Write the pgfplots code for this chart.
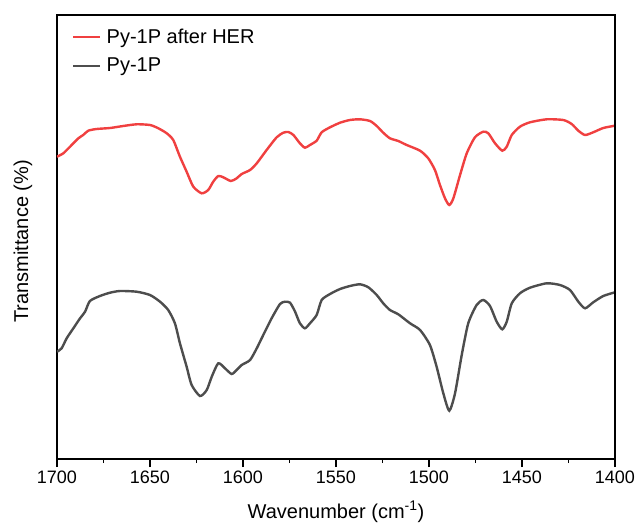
\documentclass[border=0pt]{standalone}
\usepackage{pgfplots}
\pgfplotsset{compat=1.18}
\usepackage{fontspec}
\setmainfont{Liberation Sans}
\definecolor{redc}{RGB}{240,64,64}
\definecolor{grayc}{RGB}{77,77,77}
\begin{document}
\begin{tikzpicture}
\path[use as bounding box] (-57pt,-66pt) rectangle (582pt,459pt);
\begin{axis}[
  at={(0,0)}, anchor=south west,
  scale only axis, width=558pt, height=444pt,
  x dir=reverse, xmin=1400, xmax=1700, ymin=66, ymax=510,
  xtick={1400,1450,...,1700}, minor x tick num=1,
  xtick pos=bottom, tick align=outside,
  major tick length=8pt, minor tick length=4pt,
  ytick=\empty,
  axis line style={line width=1.6pt},
  tick style={line width=1.4pt, black},
  tick label style={font=\fontsize{18}{20}\selectfont, /pgf/number format/assume math mode=true, /pgf/number format/1000 sep={}},
  xlabel={Wavenumber (cm\textsuperscript{-1})},
  ylabel={Transmittance (\%)},
  label style={font=\fontsize{20}{22}\selectfont},
  xlabel style={at={(axis description cs:0.5,0)}, anchor=center, yshift=-53pt},
  ylabel style={at={(axis description cs:-0.061,0.49)}, anchor=center},
  legend style={at={(0,1)}, anchor=north west, xshift=12pt, yshift=-10pt, draw=none, fill=none, font=\fontsize{20}{22}\selectfont, row sep=9pt, nodes={inner xsep=5pt}},
  legend cell align=left,
  legend image post style={line width=2.5pt},
  legend image code/.code={\draw[#1] (0pt,0pt) -- (27pt,0pt);},
]
\addplot[redc, line width=2.4pt, smooth, tension=0.4] coordinates {
(1700,368.3)(1696.6,371.7)(1693.0,378.3)(1688.5,386.7)(1685.9,390)(1683.2,394.3)
(1678.7,396)(1671.5,397)(1664.4,399)(1657.2,400.7)(1650.0,400)(1645.5,396.7)
(1641.0,391.7)(1637.5,385)(1633.9,368.3)(1630.3,353.3)(1626.7,338.3)(1622.2,331.7)
(1618.7,335)(1616.0,343.3)(1613.3,349)(1610.6,347.7)(1606.5,344)(1603.4,346.7)
(1600.7,351)(1596.2,355)(1592.6,361.7)(1587.3,375)(1581.9,387.7)(1578.3,392.3)
(1575.6,393)(1572.9,390)(1569.4,381.7)(1566.7,377.3)(1564.0,380)(1560.4,384.3)
(1557.7,392.7)(1553.2,397.7)(1547.8,402.3)(1542.5,405)(1537.1,405.7)(1531.7,404)
(1528.1,399)(1524.6,392.3)(1521.0,386.7)(1516.5,384)(1512.0,380)(1504.8,374.3)
(1500.4,366.7)(1496.8,355)(1494.1,340)(1491.4,326.7)(1489.1,320)(1486.9,326.7)
(1483.3,350)(1479.7,371.7)(1475.3,387.7)(1470.8,393.3)(1468.1,391.7)(1464.5,381.7)
(1460.6,374.3)(1458.2,378.3)(1455.5,390)(1451.1,398.3)(1445.7,402.7)(1436.7,405.7)
(1427.8,405)(1423.3,401)(1419.7,394.3)(1416.1,390)(1411.7,392.7)(1406.3,397)(1400,399.3)
};
\addlegendentry{Py-1P after HER}
\addplot[grayc, line width=2.4pt, smooth, tension=0.4] coordinates {
(1700,173.3)(1697.5,176.7)(1694.8,186.7)(1691.2,196.7)(1687.6,206.7)(1684.9,213.3)
(1682.3,224)(1676.9,229)(1671.5,232.3)(1666.1,234)(1657.2,233.3)(1650.0,230)
(1644.6,223.3)(1640.2,215)(1636.6,201.7)(1633.9,181.7)(1630.3,158.3)(1627.6,140)
(1623.1,129)(1619.5,135)(1616.8,148.3)(1613.3,161.7)(1609.7,156.7)(1606.1,151)
(1603.4,155)(1600.7,160)(1596.2,165)(1592.6,176.7)(1589.1,190)(1584.6,206.7)
(1580.1,221)(1577.4,223.3)(1574.7,222.3)(1572.0,213.3)(1569.4,201.7)(1566.7,196.7)
(1564.0,201.7)(1560.4,210)(1557.7,225)(1553.2,231)(1547.8,236)(1542.5,239)
(1537.1,240.7)(1532.6,237.7)(1528.1,230)(1524.6,221.7)(1521.0,215)(1516.5,210.7)
(1510.2,201.7)(1504.8,195)(1499.5,180)(1495.9,158.3)(1492.3,131.7)(1489.1,114.3)
(1486.0,131.7)(1482.4,170)(1478.9,201.7)(1474.4,220)(1470.8,225)(1467.2,219)
(1463.6,203.3)(1460.6,195.7)(1458.2,203.3)(1455.5,221.7)(1451.1,231.7)(1445.7,237.3)
(1436.7,241.7)(1429.6,240)(1424.2,235)(1419.7,223.3)(1416.1,216.7)(1411.7,222.7)
(1406.3,229)(1400,232.7)
};
\addlegendentry{Py-1P}
\end{axis}
\draw[line width=1.6pt, black] (0pt,444pt) -- (558pt,444pt) -- (558pt,0pt);
\end{tikzpicture}
\end{document}
